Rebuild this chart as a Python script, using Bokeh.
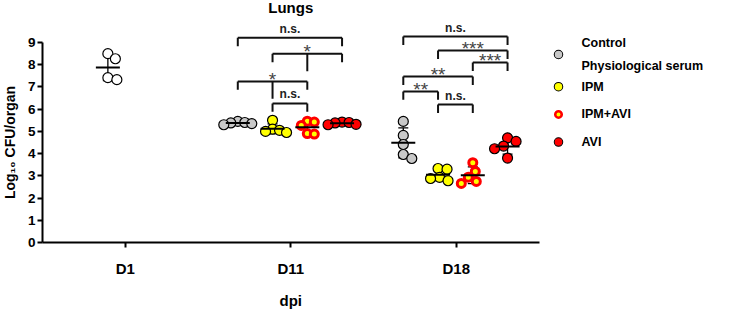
import numpy as np
from bokeh.plotting import figure
from bokeh.models import Range1d, FixedTicker, Label
from bokeh.core.properties import value
from bokeh.embed import file_html
from bokeh.resources import INLINE

# ---------------- data ----------------
title = "Lungs"
days = ["D1", "D11", "D18"]
groups = ["Control\nPhysiological serum", "IPM", "IPM+AVI", "AVI"]
y_label = "Log\u2081\u2080 CFU/organ"
x_label = "dpi"
y_ticks = [0, 1, 2, 3, 4, 5, 6, 7, 8, 9]

d1_control = [8.50, 8.27, 7.42, 7.33]
d11_control = [5.45, 5.40, 5.38, 5.35, 5.30]
d11_ipm = [5.50, 5.10, 5.05, 5.00, 4.95]
d11_ipm_avi = [5.46, 5.42, 5.27, 4.90, 4.88]
d11_avi = [5.42, 5.40, 5.38, 5.32, 5.30]
d18_control = [5.45, 4.82, 4.41, 3.96, 3.78]
d18_ipm = [3.33, 3.30, 2.93, 2.88, 2.78]
d18_ipm_avi = [3.59, 3.20, 2.94, 2.75, 2.66]
d18_avi = [4.71, 4.55, 4.34, 4.22, 3.80]

# significance brackets: (day, group a, group b, bar level, label, stem group)
sig_days = ["D11", "D11", "D11", "D11", "D18", "D18", "D18", "D18", "D18", "D18"]
sig_a = [0, 1, 0, 1, 0, 1, 2, 0, 0, 1]
sig_b = [3, 3, 2, 2, 3, 3, 3, 2, 1, 2]
sig_level = [9.21, 8.49, 7.25, 6.26, 9.27, 8.64, 8.10, 7.47, 6.80, 6.21]
sig_label = ["n.s.", "*", "*", "n.s.", "n.s.", "***", "***", "**", "**", "n.s."]
sig_stem = [None, 2, 1, None, None, None, None, None, None, None]

# ---------------- layout ----------------
W, H = 735, 312
AX_X, AX_Y = 42.0, 242.0      # pixel position of the axes corner
PX = 165.5   # px per x unit
PY = 22.22   # px per y unit
X_AT_AXIS = 0.5
x0 = X_AT_AXIS - AX_X / PX
x1 = X_AT_AXIS + (W - AX_X) / PX
y1 = AX_Y / PY
y0 = -(H - AX_Y) / PY


def xd(px):
    return X_AT_AXIS + (px - AX_X) / PX


def yd(py):
    return (AX_Y - py) / PY


offsets = [-0.32, -0.11, 0.10, 0.31]
d1_offset = -0.105
day_x = {d: i + 1 for i, d in enumerate(days)}
swarm_diam = {"D1": 9.0, "D11": 7.0, "D18": 9.0}

fills = ["#c8c8c8", "#ffff00", "#ffff00", "#ff0000"]
lines = ["black", "black", "#ff0000", "black"]
lws = [1.2, 1.2, 3.0, 1.2]
sizes = [10, 10, 8, 10]

FONT = "Liberation Sans"

p = figure(width=W, height=H, output_backend="svg", toolbar_location=None,
           x_range=Range1d(x0, x1), y_range=Range1d(y0, y1),
           min_border_left=0, min_border_right=0, min_border_top=0,
           min_border_bottom=0, title=None)
p.outline_line_color = None
p.xgrid.visible = False
p.ygrid.visible = False
p.background_fill_color = "white"
p.border_fill_color = "white"

# axes (fixed inside the frame)
p.yaxis.fixed_location = X_AT_AXIS
p.xaxis.fixed_location = 0
p.yaxis.ticker = FixedTicker(ticks=y_ticks)
p.yaxis.bounds = (0, 9)
p.xaxis.ticker = FixedTicker(ticks=[1, 2, 3])
p.xaxis.bounds = (0.5, 3.5)
p.xaxis.major_label_overrides = {day_x[d]: d for d in days}
for ax in (p.xaxis, p.yaxis):
    ax.axis_line_width = 2
    ax.axis_line_color = "black"
    ax.major_tick_line_width = 2
    ax.major_tick_line_color = "black"
    ax.major_tick_in = 0
    ax.major_tick_out = 5
    ax.minor_tick_line_color = None
    ax.major_label_text_font = FONT
    ax.major_label_text_font_style = "bold"
    ax.major_label_text_color = "black"
p.yaxis.major_label_text_font_size = "13.5px"
p.yaxis.major_label_standoff = 2
p.xaxis.major_label_text_font_size = "15px"
p.xaxis.major_label_standoff = 12


def swarm(vals, center, diam):
    placed = []
    xs = []
    cands = [0.0]
    for k in range(1, 60):
        cands += [k * 0.5, -k * 0.5]
    for v in vals:
        yp = v * PY
        for c in cands:
            if all((c - a) ** 2 + (yp - b) ** 2 >= diam ** 2 for a, b in placed):
                break
        placed.append((c, yp))
        xs.append(center + c / PX)
    return xs


series = [
    ("D1", 0, d1_control, d1_offset, "white"),
    ("D11", 0, d11_control, offsets[0], None),
    ("D11", 1, d11_ipm, offsets[1], None),
    ("D11", 2, d11_ipm_avi, offsets[2], None),
    ("D11", 3, d11_avi, offsets[3], None),
    ("D18", 0, d18_control, offsets[0], None),
    ("D18", 1, d18_ipm, offsets[1], None),
    ("D18", 2, d18_ipm_avi, offsets[2], None),
    ("D18", 3, d18_avi, offsets[3], None),
]

cap = 5 / PX
meanw = 12 / PX
for day, g, vals, off, fill_override in series:
    cx = day_x[day] + off
    v = np.array(vals)
    m = v.mean()
    sd = v.std(ddof=1)
    p.segment(x0=[cx, cx - cap, cx - cap], y0=[m - sd, m + sd, m - sd],
              x1=[cx, cx + cap, cx + cap], y1=[m + sd, m + sd, m - sd],
              line_color="black", line_width=1.3)
    xs = swarm(vals, cx, swarm_diam[day])
    p.scatter(x=xs, y=vals, marker="circle", size=sizes[g],
              fill_color=fill_override or fills[g], line_color=lines[g],
              line_width=lws[g])
    p.segment(x0=[cx - meanw], y0=[m], x1=[cx + meanw], y1=[m],
              line_color="black", line_width=2)

# significance brackets
leg = 0.38
stem = 0.78
bx0, by0, bx1, by1 = [], [], [], []
tx, ty, tt = [], [], []
for day, a, b, lvl, lab, st in zip(sig_days, sig_a, sig_b, sig_level, sig_label, sig_stem):
    xa = day_x[day] + offsets[a]
    xb = day_x[day] + offsets[b]
    bx0 += [xa, xa, xb]
    by0 += [lvl, lvl, lvl]
    bx1 += [xb, xa, xb]
    by1 += [lvl, lvl - leg, lvl - leg]
    if st is not None:
        xs_ = day_x[day] + offsets[st]
        bx0.append(xs_); by0.append(lvl); bx1.append(xs_); by1.append(lvl - stem)
    tx.append((xa + xb) / 2)
    ty.append(lvl)
    tt.append(lab)
p.segment(x0=bx0, y0=by0, x1=bx1, y1=by1, line_color="#111111", line_width=2)
ns_idx = [i for i, t in enumerate(tt) if t == "n.s."]
st_idx = [i for i, t in enumerate(tt) if t != "n.s."]
p.text(x=[tx[i] for i in ns_idx], y=[ty[i] + 2 / PY for i in ns_idx],
       text=[tt[i] for i in ns_idx],
       text_font=value(FONT), text_font_size="12px", text_font_style="bold",
       text_color="#222222", text_align="center", text_baseline="bottom")
p.text(x=[tx[i] for i in st_idx], y=[ty[i] + 2 / PY for i in st_idx],
       text=[tt[i] for i in st_idx],
       text_font=value(FONT), text_font_size="19px", text_color="#444444",
       text_align="center", text_baseline="middle")

# legend (drawn as glyphs)
leg_x = xd(558)
leg_tx = xd(581)
leg_ypx = [54 + 27.7 * i + (4.5 if i > 0 else 0) for i in range(len(groups))]
leg_y = [yd(v) for v in leg_ypx]
for i, gname in enumerate(groups):
    p.scatter(x=[leg_x], y=[leg_y[i]], marker="circle", size=sizes[i] - 1.5,
              fill_color=fills[i], line_color=lines[i], line_width=lws[i] * 0.85)
p.text(x=[leg_tx] * len(groups), y=leg_y, text=groups,
       text_font=value(FONT), text_font_size="12.5px", text_font_style="bold",
       text_color="black", text_align="left", text_baseline="middle",
       text_line_height=1.6)

# title and axis labels
p.add_layout(Label(x=2.0, y=yd(7), text=title, text_font=FONT,
                   text_font_size="15px", text_font_style="bold",
                   text_align="center", text_baseline="middle", text_color="black"))
p.add_layout(Label(x=xd(9), y=yd(142), text=y_label, angle=np.pi / 2,
                   text_font=FONT, text_font_size="14px", text_font_style="bold",
                   text_align="center", text_baseline="middle", text_color="black"))
p.add_layout(Label(x=2.0, y=yd(300), text=x_label, text_font=FONT,
                   text_font_size="15px", text_font_style="bold",
                   text_align="center", text_baseline="middle", text_color="black"))

open("out.html", "w").write(file_html(p, INLINE))
